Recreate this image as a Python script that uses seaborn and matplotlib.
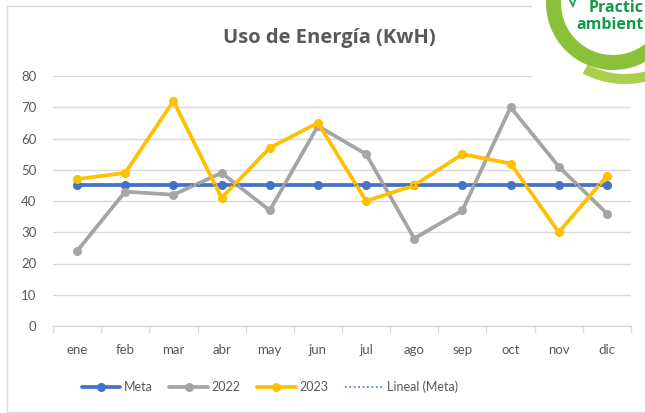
import numpy as np
import pandas as pd
import matplotlib
matplotlib.use("Agg")
import matplotlib.pyplot as plt
from matplotlib.patches import Rectangle, Wedge, Polygon
from matplotlib.lines import Line2D
import seaborn as sns


# =========================
# 1. datos
# =========================
meses = ["ene", "feb", "mar", "abr", "may", "jun",
         "jul", "ago", "sep", "oct", "nov", "dic"]
meta = [45, 45, 45, 45, 45, 45, 45, 45, 45, 45, 45, 45]
uso_2022 = [24, 43, 42, 49, 37, 64, 55, 28, 37, 70, 51, 36]
uso_2023 = [47, 49, 72, 41, 57, 65, 40, 45, 55, 52, 30, 48]
series = ["Meta", "2022", "2023"]
y_ticks = [0, 10, 20, 30, 40, 50, 60, 70, 80]

AZUL = "#4472C4"
GRIS = "#A5A5A5"
AMARILLO = "#FFC000"
TEXTO = "#595959"
REJILLA = "#D9D9D9"
VERDE = "#8BC03A"
VERDE_CLARO = "#A9CF4C"
VERDE_TEXTO = "#14994A"

df = pd.DataFrame({
    "mes": meses * 3,
    "valor": meta + uso_2022 + uso_2023,
    "serie": ["Meta"] * 12 + ["2022"] * 12 + ["2023"] * 12,
})

# linea de tendencia lineal de la meta
pos = np.arange(len(meses))
coef = np.polyfit(pos, meta, 1)
tendencia = np.polyval(coef, pos)


# =========================
# 2. grafico
# =========================
sns.set_theme(style="white")
plt.rcParams["font.family"] = ["Lato", "DejaVu Sans"]

fig = plt.figure(figsize=(6.45, 4.13), dpi=100)
ax = fig.add_axes([53 / 645, 1 - 326 / 413, (631 - 53) / 645, (326 - 76) / 413])

sns.lineplot(
    data=df, x="mes", y="valor", hue="serie", hue_order=series,
    palette={"Meta": AZUL, "2022": GRIS, "2023": AMARILLO},
    marker="o", markersize=6.5, markeredgewidth=0, linewidth=2.7,
    sort=False, legend=False, ax=ax,
)
sns.lineplot(x=meses, y=tendencia, color=AZUL, linestyle=":",
             linewidth=1.2, sort=False, legend=False, ax=ax)

ax.set_xlim(-0.5, 11.5)
ax.set_ylim(0, 80)
ax.set_yticks(y_ticks)
ax.set_xlabel("")
ax.set_ylabel("")
ax.yaxis.grid(True, color=REJILLA, linewidth=1)
ax.set_axisbelow(True)
for s in ["top", "right", "left"]:
    ax.spines[s].set_visible(False)
ax.spines["bottom"].set_color(REJILLA)
ax.spines["bottom"].set_linewidth(1)

ax.set_xticks(np.arange(-0.5, 12, 1), minor=True)
ax.tick_params(axis="x", which="major", length=0, pad=13,
               labelsize=9.5, labelcolor=TEXTO)
ax.tick_params(axis="x", which="minor", bottom=True, length=5,
               color=REJILLA, width=1)
ax.tick_params(axis="y", length=0, pad=12, labelsize=9.5, labelcolor=TEXTO)

# leyenda
handles = [
    Line2D([], [], color=AZUL, lw=2.7, marker="o", ms=6.5, mew=0),
    Line2D([], [], color=GRIS, lw=2.7, marker="o", ms=6.5, mew=0),
    Line2D([], [], color=AMARILLO, lw=2.7, marker="o", ms=6.5, mew=0),
    Line2D([], [], color=AZUL, lw=1.2, linestyle=":"),
]
fig.legend(handles, series + ["Lineal (Meta)"], loc="center",
           bbox_to_anchor=(270 / 645, 1 - 387 / 413), ncol=4, frameon=False,
           fontsize=9, labelcolor=TEXTO, handlelength=3.1,
           handletextpad=0.3, columnspacing=1.3)

# titulo
fig.text(329 / 645, 1 - 38 / 413, "Uso de Energía (KwH)", ha="center",
         va="center", fontsize=14.5, fontweight="bold", color=TEXTO,
         family=["Open Sans", "DejaVu Sans"])


# =========================
# 3. marco y logo
# =========================
ov = fig.add_axes([0, 0, 1, 1], zorder=5)
ov.set_xlim(0, 645)
ov.set_ylim(413, 0)
ov.axis("off")

ov.add_patch(Rectangle((7, 6), 700, 406, fill=False, ec=REJILLA, lw=1))
ov.add_patch(Rectangle((532, -2), 120, 92, fc="white", ec="none"))
ov.add_patch(Wedge((613, 3), 67, 0, 360, width=15, fc=VERDE, ec="none"))
ov.add_patch(Wedge((625, -6), 90, 70, 118, width=10, fc=VERDE_CLARO, ec="none"))
ov.add_patch(Polygon([[569, 0], [573, 8], [576, 0], [574, 0], [573, 4], [571, 0]],
                     closed=True, fc=VERDE_TEXTO, ec="none"))
ov.text(644, 8.5, "Practic", color=VERDE_TEXTO, fontsize=11.5,
        fontweight="bold", va="center", ha="right",
        family=["Open Sans", "DejaVu Sans"])
ov.text(644, 25, "ambient", color=VERDE_TEXTO, fontsize=11.5,
        fontweight="bold", va="center", ha="right",
        family=["Open Sans", "DejaVu Sans"])

fig.savefig("out.png", dpi=100)
